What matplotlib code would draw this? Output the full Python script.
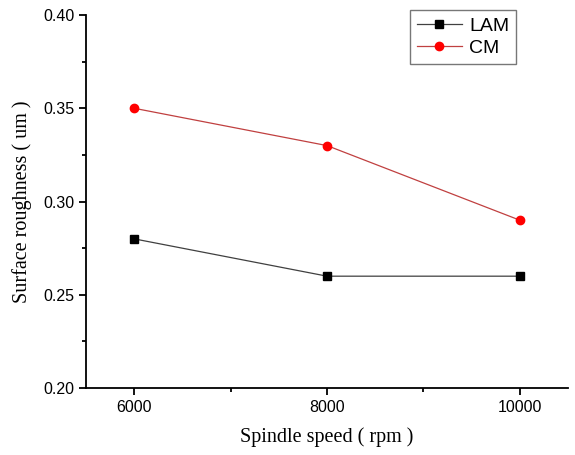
import matplotlib
matplotlib.use("Agg")
import matplotlib.pyplot as plt
from matplotlib.ticker import MultipleLocator

# ================= DATA =================
speed = [6000, 8000, 10000]
lam = [0.28, 0.26, 0.26]
cm = [0.35, 0.33, 0.29]

# ================= PLOT =================
fig = plt.figure(figsize=(5.75, 4.55), dpi=100)
ax = fig.add_axes([0.1496, 0.147, 0.8384, 0.82])

ax.plot(speed, lam, color="#404040", lw=0.9, marker="s", ms=5.2,
        mfc="black", mec="black", label="LAM")
ax.plot(speed, cm, color="#c04040", lw=0.9, marker="o", ms=6,
        mfc="red", mec="red", label="CM")

ax.set_xlim(5500, 10500)
ax.set_ylim(0.20, 0.40)
ax.xaxis.set_major_locator(MultipleLocator(2000))
ax.xaxis.set_minor_locator(MultipleLocator(1000))
ax.yaxis.set_major_locator(MultipleLocator(0.05))
ax.yaxis.set_minor_locator(MultipleLocator(0.025))
ax.yaxis.set_major_formatter(plt.FormatStrFormatter("%.2f"))

for s in ["top", "right"]:
    ax.spines[s].set_visible(False)
for s in ["left", "bottom"]:
    ax.spines[s].set_linewidth(1.3)

ax.tick_params(which="major", direction="out", length=5, width=1.3,
               labelsize=11.5)
ax.tick_params(which="minor", direction="out", length=3, width=1.3)
for lbl in ax.get_xticklabels() + ax.get_yticklabels():
    lbl.set_family("Liberation Sans")

ax.set_xlabel("Spindle speed ( rpm )", family="Liberation Serif",
              fontsize=14.5, labelpad=9)
ax.set_ylabel("Surface roughness ( um )", family="Liberation Serif",
              fontsize=14.5, labelpad=8)

leg = ax.legend(loc="upper left", bbox_to_anchor=(0.672, 1.013),
                borderaxespad=0,
                prop={"family": "Liberation Sans", "size": 14},
                frameon=True, fancybox=False, edgecolor="#555555",
                handlelength=2.3, borderpad=0.35, labelspacing=0.25,
                handletextpad=0.4)
leg.get_frame().set_linewidth(1.0)

fig.savefig("out.png", dpi=100)
